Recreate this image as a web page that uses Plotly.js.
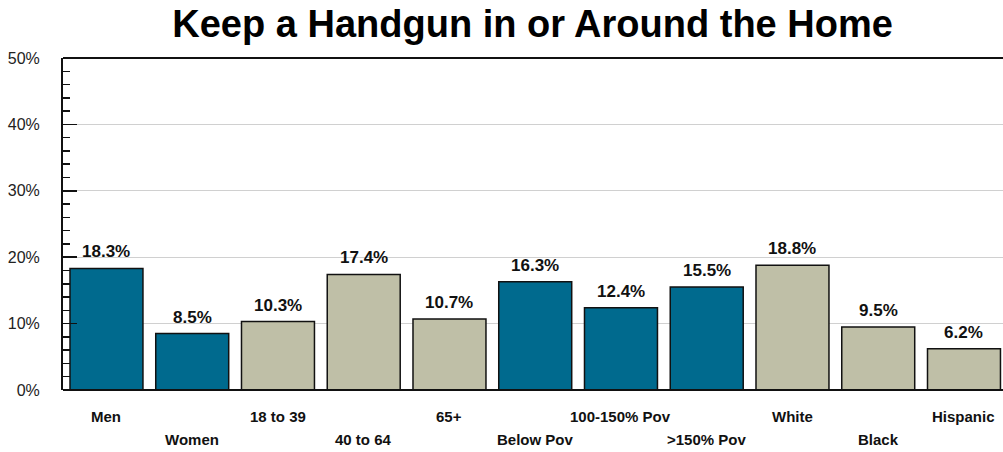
<!DOCTYPE html>
<html><head><meta charset="utf-8">
<script src="https://cdn.plot.ly/plotly-3.0.1.min.js"></script>
<style>body{margin:0;padding:0;background:#fff}#chart{width:1003px;height:452px}</style>
</head><body><div id="chart"></div>
<script>
const categories = ["Men","Women","18 to 39","40 to 64","65+","Below Pov","100-150% Pov",">150% Pov","White","Black","Hispanic"];
const values = [18.3, 8.5, 10.3, 17.4, 10.7, 16.3, 12.4, 15.5, 18.8, 9.5, 6.2];
const groups = ["sex","sex","age","age","age","pov","pov","pov","race","race","race"];
const groupColors = {sex:"#006a8e", age:"#bfbfa7", pov:"#006a8e", race:"#bfbfa7"};
const yTickVals = [0,10,20,30,40,50];
const yTickText = ["0%","10%","20%","30%","40%","50%"];

const font = "Arial, 'Liberation Sans', sans-serif";
const trace = {
  type: "bar",
  x: categories,
  y: values,
  marker: {color: groups.map(g => groupColors[g]), line: {color: "#111", width: 1.5}},
  hoverinfo: "none"
};
const annotations = [];
categories.forEach((c, i) => {
  annotations.push({x: c, y: values[i], xref: "x", yref: "y", text: values[i].toFixed(1) + "%",
    showarrow: false, yanchor: "bottom", yshift: 5, font: {family: font, size: 17, color: "#111", weight: "bold"}});
  annotations.push({x: c, y: 0, xref: "x", yref: "paper", text: c, showarrow: false,
    yanchor: "middle", yshift: (i % 2 === 0) ? -26 : -49, font: {family: font, size: 15, color: "#111", weight: "bold"}});
});
const layout = {
  width: 1003, height: 452,
  margin: {l: 63, r: 0, t: 58, b: 62},
  paper_bgcolor: "#fff", plot_bgcolor: "#fff",
  title: {text: "Keep a Handgun in or Around the Home", x: 0.531, xanchor: "center", y: 0.947, yanchor: "middle",
    font: {family: font, size: 38, color: "#000", weight: "bold"}},
  bargap: 0.149,
  showlegend: false,
  xaxis: {range: [-0.507, 10.455], showticklabels: false, ticks: "", showgrid: false, zeroline: false, showline: false, fixedrange: true},
  yaxis: {range: [0, 50], tickvals: yTickVals, ticktext: yTickText, showgrid: true, gridcolor: "#d0d0d0", gridwidth: 1,
    ticks: "inside", ticklen: 14, tickcolor: "#111", tickwidth: 1.5,
    minor: {dtick: 2, ticks: "inside", ticklen: 7, tickcolor: "#111", tickwidth: 1.5, showgrid: false},
    showline: true, linecolor: "#111", linewidth: 2, mirror: false, zeroline: false,
    tickfont: {family: font, size: 16, color: "#222"}, ticklabelstandoff: 18},
  shapes: [
    {type: "line", xref: "paper", yref: "paper", x0: 0, x1: 1, y0: 1, y1: 1, line: {color: "#111", width: 2}},
    {type: "line", xref: "paper", yref: "paper", x0: 0, x1: 1, y0: 0, y1: 0, line: {color: "#111", width: 2}}
  ],
  annotations: annotations
};
Plotly.newPlot("chart", [trace], layout, {displayModeBar: false, staticPlot: true});
</script></body></html>
